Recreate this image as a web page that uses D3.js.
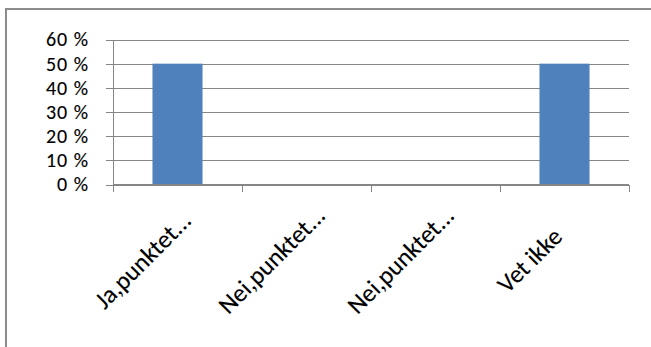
<!DOCTYPE html>
<html>
<head>
<meta charset="utf-8">
<script src="https://cdn.jsdelivr.net/npm/d3@7"></script>
<style>
  html, body { margin: 0; padding: 0; background: #ffffff; }
  svg { display: block; }
  text { font-family: Carlito, Calibri, Lato, "Liberation Sans", sans-serif; fill: #000; stroke: #000; stroke-width: 0.12px; }
</style>
</head>
<body>
<svg id="chart" width="651" height="347"></svg>
<script>
// Survey answers and their shares
const categories = ["Ja,punktet...", "Nei,punktet...", "Nei,punktet...", "Vet ikke"];
const categoryKeys = ["ja", "nei1", "nei2", "vet"];
const shares = [0.5, 0, 0, 0.5];
const yTicks = [0, 0.1, 0.2, 0.3, 0.4, 0.5, 0.6];

const svg = d3.select("#chart");

const plot = { left: 113, right: 629, top: 39.5, bottom: 184.5 };

// Chart area frame (runs off the right and bottom edges)
svg.append("rect")
  .attr("x", 6).attr("y", 9)
  .attr("width", 700).attr("height", 400)
  .attr("fill", "#fff")
  .attr("stroke", "#8c8c8c")
  .attr("stroke-width", 2);

const x = d3.scaleBand()
  .domain(categoryKeys)
  .range([plot.left, plot.right])
  .paddingInner(0.612)
  .paddingOuter(0.306);

const y = d3.scaleLinear()
  .domain([0, 0.6])
  .range([plot.bottom, plot.top]);

// Horizontal gridlines with short outer ticks, and value labels
const yAxis = d3.axisLeft(y)
  .tickValues(yTicks)
  .tickSizeInner(-(plot.right - plot.left))
  .tickSizeOuter(0)
  .tickPadding(24)
  .tickFormat(d => Math.round(d * 100) + " %");

const gy = svg.append("g")
  .attr("transform", `translate(${plot.left},0)`)
  .call(yAxis);
gy.select(".domain").remove();
gy.selectAll(".tick line")
  .attr("x1", -7)
  .attr("stroke", "#868686")
  .attr("shape-rendering", "crispEdges");
gy.selectAll(".tick text")
  .style("font-size", "20px")
  .style("letter-spacing", "1px")
  .style("word-spacing", "0px")
  .attr("fill", "#000");

// Vertical axis line
svg.append("line")
  .attr("x1", plot.left).attr("x2", plot.left)
  .attr("y1", plot.top).attr("y2", plot.bottom + 7)
  .attr("stroke", "#868686")
  .attr("shape-rendering", "crispEdges");

// Bars
svg.append("g")
  .selectAll("rect")
  .data(categoryKeys.map((k, i) => ({ key: k, value: shares[i] })))
  .join("rect")
  .attr("x", d => x(d.key))
  .attr("width", x.bandwidth())
  .attr("y", d => y(d.value))
  .attr("height", d => y(0) - y(d.value))
  .attr("fill", "#4f81bd");

// Category axis with tick marks between the categories
const step = x.step();
const boundaries = d3.range(categoryKeys.length + 1).map(i => plot.left + i * step);
svg.append("line")
  .attr("x1", plot.left).attr("x2", plot.right)
  .attr("y1", y(0)).attr("y2", y(0))
  .attr("stroke", "#868686")
  .attr("shape-rendering", "crispEdges");
svg.append("g")
  .selectAll("line")
  .data(boundaries)
  .join("line")
  .attr("x1", d => d).attr("x2", d => d)
  .attr("y1", y(0)).attr("y2", y(0) + 7)
  .attr("stroke", "#868686")
  .attr("shape-rendering", "crispEdges");

// Rotated category labels
svg.append("g")
  .selectAll("text")
  .data(categoryKeys.map((k, i) => ({ key: k, label: categories[i] })))
  .join("text")
  .attr("transform", d => `translate(${x(d.key) + x.bandwidth() / 2 - 35},${260}) rotate(-45)`)
  .attr("text-anchor", "middle")
  .attr("dy", "0.35em")
  .style("font-size", "25px")
  .text(d => d.label);
</script>
</body>
</html>
